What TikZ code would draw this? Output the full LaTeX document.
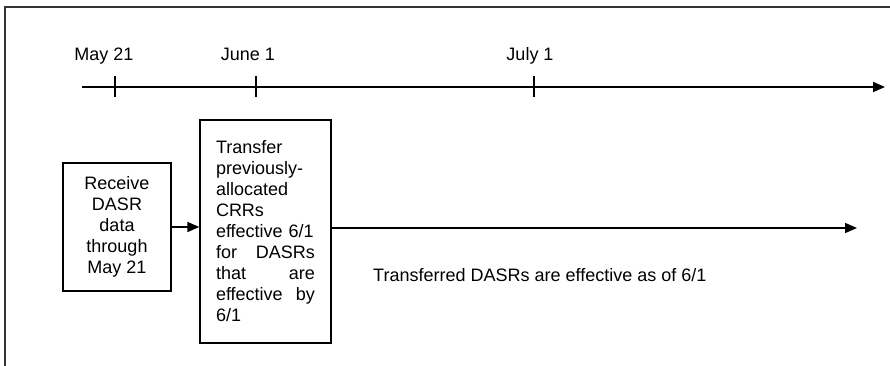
\documentclass[tikz,border=0pt]{standalone}
\usepackage{fontspec}
\setmainfont{Liberation Sans}
\usetikzlibrary{arrows.meta, positioning}
\tikzset{
    font=\fontsize{18}{21}\selectfont,
    >={Triangle[length=12pt,width=10pt]},
    % Lines
    frame/.style={line width=1.6pt, draw=black!80},
    axis/.style={->, line width=1.8pt},
    tickmark/.style={line width=1.2pt},
    flow/.style={->, line width=1.6pt},
    % Boxes
    stepbox/.style={rectangle, draw, line width=1.3pt, inner sep=16pt},
    datelbl/.style={anchor=base, inner sep=0pt}
}

\begin{document}
\begin{tikzpicture}[x=1pt, y=-1pt]
\useasboundingbox (0,0) rectangle (890,366);

\draw[frame] (890,7) -| (5,366);

% Time axis
\coordinate (tstart) at (82,87);
\coordinate (tend) at (885,87);
\draw[axis] (tstart) -- (tend);

\foreach \x/\name/\shift/\lbl in {115/may/-11/May 21, 256/jun/-8/June 1, 534/jul/-4/July 1}{
    \coordinate (\name) at (\x,87);
    \draw[tickmark] ([yshift=-10pt]\name) -- ([yshift=11pt]\name);
    \node[datelbl] (\name lbl) at (\x+\shift,61) {\lbl};
}

% Steps
\node[stepbox, minimum width=108pt, minimum height=128pt, inner sep=4pt,
      align=center] (recv) at (117,227) {Receive\\DASR\\data\\through\\May 21};

\node[stepbox, minimum width=131pt, minimum height=223pt, text width=99pt,
      align=left] (trans) at (265.5,231.5)
      {Transfer\\previously-\\allocated\\CRRs\\effective 6/1\\for\hfill DASRs\\that\hfill are\\effective\hfill by\\6/1};

\coordinate (effend) at (857,228);

\draw[flow] (recv.east) -- (recv.east -| trans.west);
\draw[flow] (trans.east |- effend) -- (effend);

\node[anchor=base west, inner sep=0pt] (efflbl) at (373,281)
      {Transferred DASRs are effective as of 6/1};

\end{tikzpicture}
\end{document}
